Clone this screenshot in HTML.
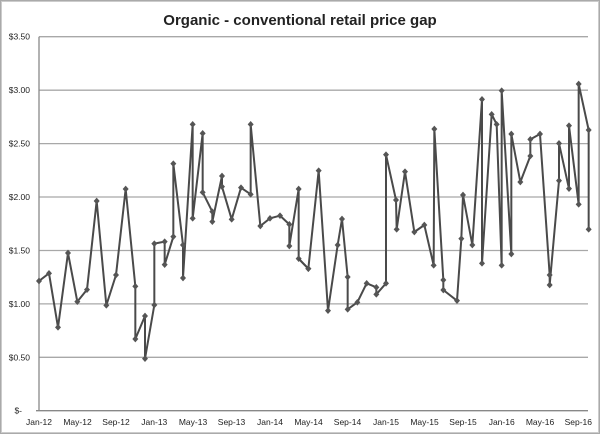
<!DOCTYPE html>
<html><head><meta charset="utf-8"><style>
html,body{margin:0;padding:0;background:#fff}
svg{display:block}
text{font-family:"Liberation Sans",sans-serif;fill:#222}
</style></head><body>
<svg width="600" height="434" viewBox="0 0 600 434" xmlns="http://www.w3.org/2000/svg">
<rect x="0.5" y="0.5" width="599" height="433" fill="#fff" stroke="#aaa"/>
<rect x="1.5" y="1.5" width="597" height="431" fill="none" stroke="#ccc"/>
<text x="300" y="25" text-anchor="middle" font-size="15" font-weight="bold" fill="#111">Organic - conventional  retail price gap</text>
<g stroke="#a8a8a8" stroke-width="1.3">
<line x1="39" x2="588" y1="36.7" y2="36.7"/>
<line x1="39" x2="588" y1="90.2" y2="90.2"/>
<line x1="39" x2="588" y1="143.6" y2="143.6"/>
<line x1="39" x2="588" y1="197" y2="197"/>
<line x1="39" x2="588" y1="250.5" y2="250.5"/>
<line x1="39" x2="588" y1="303.9" y2="303.9"/>
<line x1="39" x2="588" y1="357.3" y2="357.3"/>
</g>
<line x1="39" x2="39" y1="36.7" y2="410.7" stroke="#888" stroke-width="1.3"/>
<line x1="36" x2="588" y1="410.7" y2="410.7" stroke="#888" stroke-width="1.3"/>
<g font-size="8.5" text-anchor="end">
<text x="30" y="39.7">$3.50</text>
<text x="30" y="93.2">$3.00</text>
<text x="30" y="146.6">$2.50</text>
<text x="30" y="200">$2.00</text>
<text x="30" y="253.5">$1.50</text>
<text x="30" y="306.9">$1.00</text>
<text x="30" y="360.3">$0.50</text>
<text x="22" y="413.7">$-</text>
</g>
<g font-size="8.5" text-anchor="middle">
<text x="39" y="425">Jan-12</text>
<text x="77.5" y="425">May-12</text>
<text x="116" y="425">Sep-12</text>
<text x="154.3" y="425">Jan-13</text>
<text x="193" y="425">May-13</text>
<text x="231.5" y="425">Sep-13</text>
<text x="270" y="425">Jan-14</text>
<text x="308.5" y="425">May-14</text>
<text x="347.5" y="425">Sep-14</text>
<text x="386" y="425">Jan-15</text>
<text x="424.5" y="425">May-15</text>
<text x="463" y="425">Sep-15</text>
<text x="501.7" y="425">Jan-16</text>
<text x="540" y="425">May-16</text>
<text x="578.3" y="425">Sep-16</text>
</g>
<defs>
<marker id="d" markerUnits="userSpaceOnUse" markerWidth="22" markerHeight="22" refX="11" refY="11" viewBox="0 0 22 22">
<path d="M11 1 L20 11 L11 21 L2 11 Z" fill="#555"/>
</marker>
</defs>
<g transform="translate(0,30) scale(0.33333)">
<polyline fill="none" stroke="#4a4a4a" stroke-width="6" stroke-linejoin="round" marker-start="url(#d)" marker-mid="url(#d)" marker-end="url(#d)"
points="117,753 147,730 174,892 204,669 232,815 261,779 290,513 319,826 348,735 377,477 406,769 406,927 435,858 435,986 463,825 463,641 494,635 494,704 520,620 520,401 549,645 549,744 578,283 578,565 608,310 608,487 637,545 637,575 666,438 666,470 695,568 723,473 752,493 752,283 781,588 810,565 840,557 868,583 868,648 896,477 896,686 925,716"/>
</g>
<g transform="translate(300,30) scale(0.33333)">
<polyline fill="none" stroke="#4a4a4a" stroke-width="6" stroke-linejoin="round" marker-mid="url(#d)" marker-end="url(#d)"
points="-4,686 25,716 56,422 84,842 113,645 126,567 143,741 143,838 172,817 200,760 229,772 229,793 258,760 258,374 288,510 290,598 315,425 343,606 373,585 401,706 403,297 430,750 430,780 471,812 484,626 489,495 517,645 546,208 546,700 575,253 590,283 605,706 605,182 634,672 634,312 661,456 691,378 691,328 720,312 749,735 749,765 777,452 777,340 807,476 807,287 836,523 836,162 866,300 866,598"/>
</g>
</svg>
</body></html>
